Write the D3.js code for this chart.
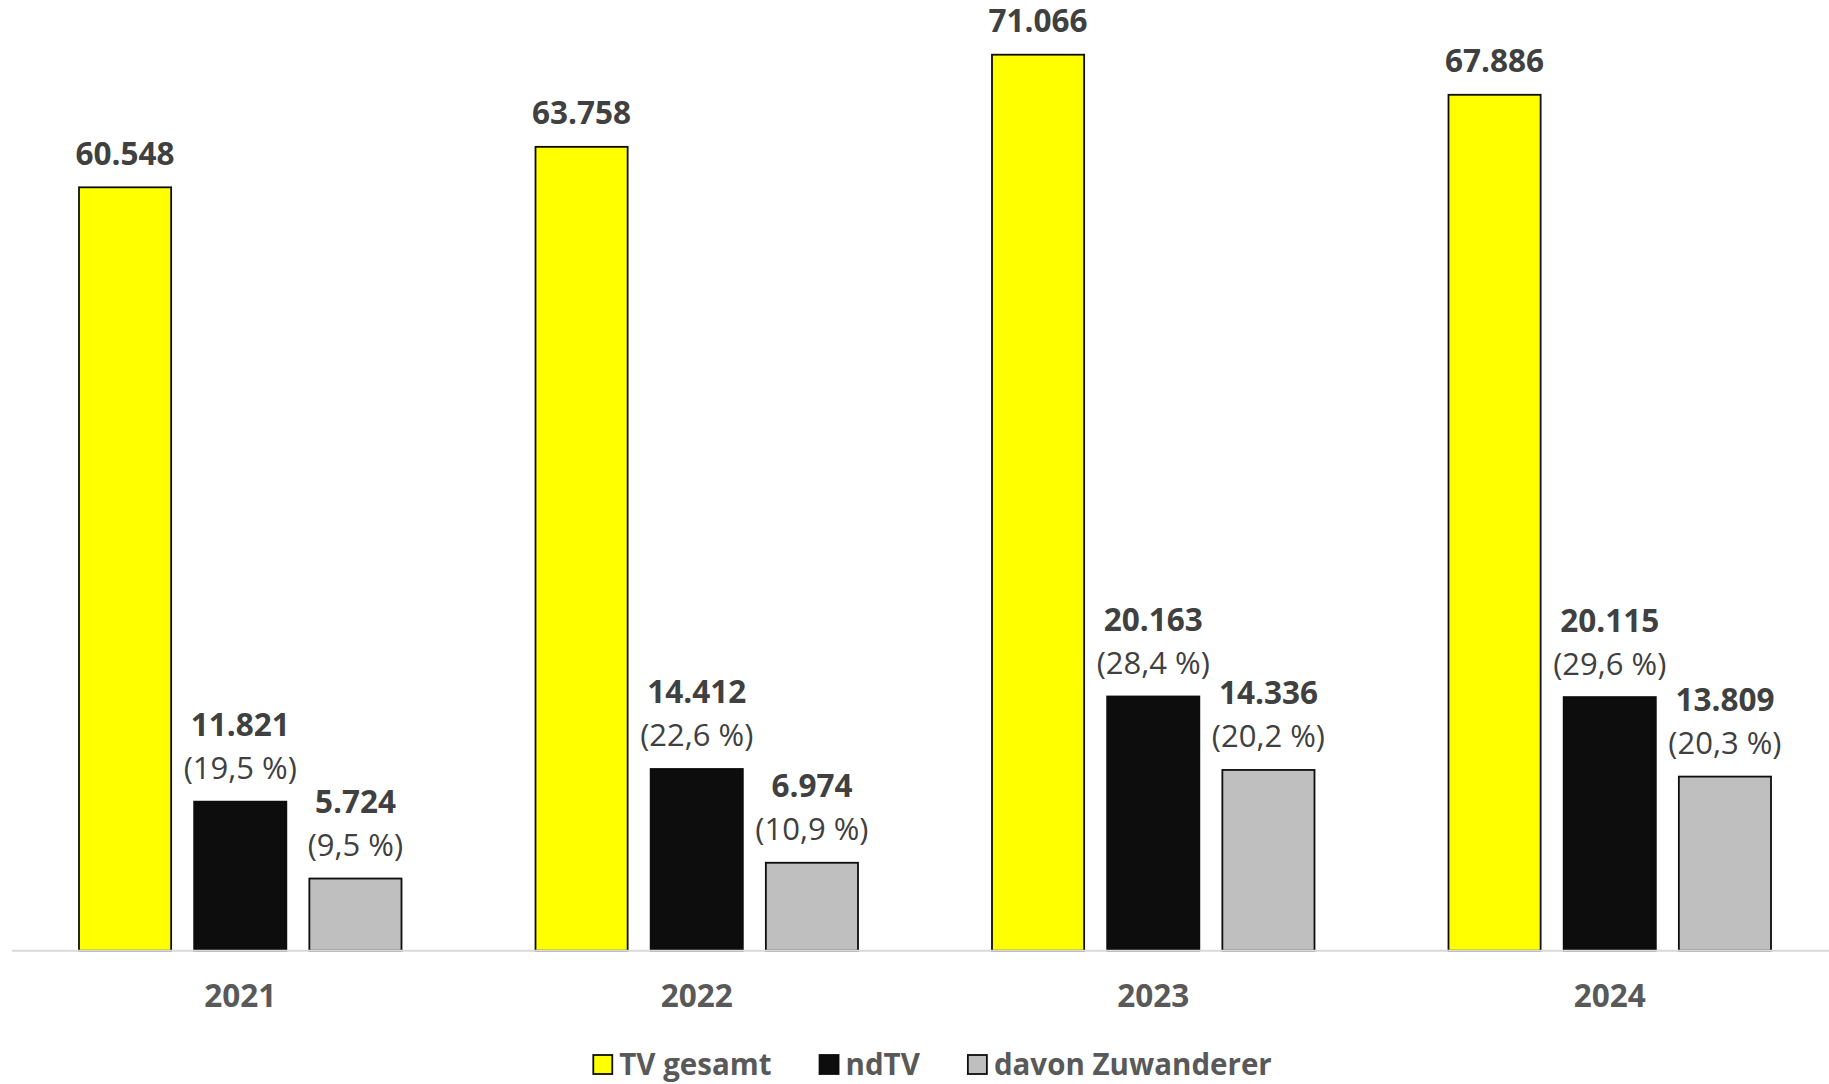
<!DOCTYPE html>
<html>
<head>
<meta charset="utf-8">
<script src="https://cdn.jsdelivr.net/npm/d3@7"></script>
<style>
  html, body { margin: 0; padding: 0; background: #ffffff; }
  svg { display: block; }
  text { font-family: "Open Sans", "Liberation Sans", sans-serif; }
</style>
</head>
<body>
<svg id="chart" width="1829" height="1084"></svg>
<script>
// ---- Data ----
const years = ["2021", "2022", "2023", "2024"];
const seriesNames = ["TV gesamt", "ndTV", "davon Zuwanderer"];
const tvGesamt = [60548, 63758, 71066, 67886];
const ndTV = [11821, 14412, 20163, 20115];
const zuwanderer = [5724, 6974, 14336, 13809];
const ndTVPct = ["19,5", "22,6", "28,4", "29,6"];
const zuwandererPct = ["9,5", "10,9", "20,2", "20,3"];
const seriesColors = ["#ffff00", "#0d0d0d", "#bfbfbf"];

const seriesValues = [tvGesamt, ndTV, zuwanderer];
const seriesPct = [null, ndTVPct, zuwandererPct];

// ---- Layout ----
const W = 1829, H = 1084;
const baseY = 950.7;
const svg = d3.select("#chart");

const de = d3.formatLocale({ decimal: ",", thousands: ".", grouping: [3], currency: ["", " €"] });
const fmt = de.format(",d");

const x0 = d3.scaleBand().domain(years).range([12, 1838]).paddingInner(0).paddingOuter(0);
const x1 = d3.scaleBand().domain(seriesNames).range([67, x0.bandwidth() - 67]).paddingInner(0.2).paddingOuter(0);
const y = d3.scaleLinear().domain([0, 75000]).range([baseY, baseY - 75000 * 0.012608]);

// data rows
const rows = [];
years.forEach((yr, i) => {
  seriesNames.forEach((s, j) => {
    rows.push({ year: yr, series: s, j: j, value: seriesValues[j][i], pct: seriesPct[j] ? seriesPct[j][i] : null });
  });
});

// bars
svg.append("g").selectAll("rect").data(rows).join("rect")
  .attr("x", d => x0(d.year) + x1(d.series))
  .attr("y", d => y(d.value))
  .attr("width", x1.bandwidth())
  .attr("height", d => y(0) - y(d.value))
  .attr("fill", d => seriesColors[d.j])
  .attr("stroke", "#0d0d0d")
  .attr("stroke-width", 1.8);

// baseline axis
const xAxis = d3.axisBottom(x0).tickSize(0).tickPadding(0);
const axisG = svg.append("g").attr("transform", `translate(0,${baseY})`).call(xAxis);
axisG.select(".domain").attr("stroke", "#d9d9d9").attr("stroke-width", 2)
  .attr("d", `M12,0H${W}`);
axisG.selectAll(".tick text")
  .attr("y", 0).attr("dy", 0)
  .attr("transform", "translate(0,56)")
  .attr("font-size", 31.5).attr("font-weight", 700).attr("fill", "#595959")
  .attr("font-family", "'Open Sans', sans-serif");

// value labels
const lbl = svg.append("g");
rows.forEach(d => {
  const cx = x0(d.year) + x1(d.series) + x1.bandwidth() / 2;
  const top = y(d.value);
  if (d.pct) {
    lbl.append("text").attr("x", cx).attr("y", top - 22.5).attr("text-anchor", "middle")
      .attr("font-size", 31).attr("fill", "#404040").text(`(${d.pct} %)`);
    lbl.append("text").attr("x", cx).attr("y", top - 65.5).attr("text-anchor", "middle")
      .attr("font-size", 31.5).attr("font-weight", 700).attr("fill", "#404040").text(fmt(d.value));
  } else {
    lbl.append("text").attr("x", cx).attr("y", top - 22.5).attr("text-anchor", "middle")
      .attr("font-size", 31.5).attr("font-weight", 700).attr("fill", "#404040").text(fmt(d.value));
  }
});

// legend
const leg = svg.append("g");
const legBase = 1075;
let cursor = 0;
seriesNames.forEach((s, j) => {
  const g = leg.append("g");
  g.append("rect").attr("x", cursor + 1).attr("y", 1055).attr("width", 19).attr("height", 19)
    .attr("fill", seriesColors[j]).attr("stroke", "#0d0d0d").attr("stroke-width", 1.8);
  const t = g.append("text").attr("x", cursor + 27).attr("y", legBase)
    .attr("font-size", 29.5).attr("font-weight", 700).attr("fill", "#595959").text(s);
  const tw = t.node().getComputedTextLength();
  cursor += 27 + tw + 47;
});
const totalW = cursor - 47;
leg.attr("transform", `translate(${932 - totalW / 2},0)`);
</script>
</body>
</html>
